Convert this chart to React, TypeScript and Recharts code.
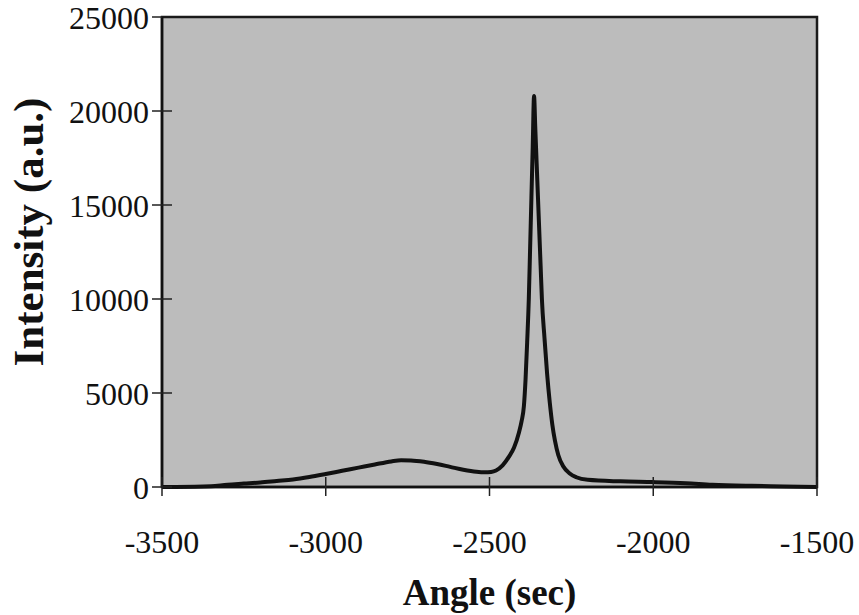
import { Line, LineChart, ReferenceArea, XAxis, YAxis } from "recharts";

// rocking curve: angle (sec) vs intensity (a.u.)
const angles = [
  -3500, -3400, -3350, -3300, -3250, -3200, -3150, -3100, -3050, -3000,
  -2950, -2900, -2850, -2800, -2770, -2740, -2700, -2660, -2620, -2580,
  -2540, -2515, -2495, -2480, -2460, -2441, -2425, -2410, -2402, -2395,
  -2390, -2385, -2380, -2376, -2372, -2368, -2364, -2360, -2356, -2352,
  -2348, -2344, -2340, -2332, -2324, -2316, -2308, -2300, -2290, -2275,
  -2255, -2235, -2200, -2100, -2000, -1900, -1820, -1700, -1600, -1500,
];
const intensity = [
  0, 10, 40, 120, 180, 240, 320, 400, 530, 690,
  860, 1030, 1200, 1360, 1420, 1410, 1340, 1220, 1070, 920,
  810, 780, 800, 880, 1150, 1600, 2100, 2900, 3500, 4300,
  5700, 7700, 10000, 12700, 15400, 18100, 20800, 19000, 17200, 15400,
  13600, 11800, 10000, 7900, 6000, 4500, 3300, 2450, 1700, 1100,
  720, 520, 380, 300, 260, 200, 120, 60, 30, 0,
];

const xTicks = [-3500, -3000, -2500, -2000, -1500];
const yTicks = [0, 5000, 10000, 15000, 20000, 25000];

const data = angles.map((angle, i) => ({ angle, value: intensity[i] }));

const serif = '"Liberation Serif", "Times New Roman", serif';

function XTick(props: any) {
  const { x, y, payload } = props;
  return (
    <g>
      <line x1={x} x2={x} y1={y - 10} y2={y + 9} stroke="#222" strokeWidth={1.5} />
      <text x={x} y={y + 66} textAnchor="middle" fontFamily={serif} fontSize={32} fill="#111">
        {payload.value}
      </text>
    </g>
  );
}

function YTick(props: any) {
  const { x, y, payload } = props;
  return (
    <g>
      <line x1={x - 10} x2={x + (payload.value === 25000 ? 0 : 10)} y1={y} y2={y} stroke="#222" strokeWidth={1.5} />
      <text x={x - 13} y={y} dy="0.36em" textAnchor="end" fontFamily={serif} fontSize={32} fill="#111">
        {payload.value}
      </text>
    </g>
  );
}

export default function App() {
  return (
    <div style={{ position: "absolute", left: 0, top: 0, width: 859, height: 615, overflow: "hidden", background: "#fff" }}>
      <LineChart
        width={859}
        height={615}
        data={data}
        margin={{ top: 17, right: 42, bottom: 0, left: 0 }}
      >
        <ReferenceArea
          x1={-3500}
          x2={-1500}
          y1={0}
          y2={25000}
          fill="#bcbcbc"
          fillOpacity={1}
          stroke="#1a1a1a"
          strokeWidth={2.5}
          ifOverflow="visible"
        />
        <XAxis
          dataKey="angle"
          type="number"
          domain={[-3500, -1500]}
          ticks={xTicks}
          tickSize={0}
          tickMargin={0}
          tickLine={false}
          tick={<XTick />}
          height={128}
          stroke="#111"
          strokeWidth={2.5}
          label={{
            value: "Angle (sec)",
            position: "insideBottom",
            offset: 10,
            style: { fontFamily: serif, fontSize: 37, fontWeight: 700, fill: "#111" },
          }}
        />
        <YAxis
          type="number"
          domain={[0, 25000]}
          ticks={yTicks}
          tickSize={0}
          tickMargin={0}
          tickLine={false}
          tick={<YTick />}
          width={162}
          stroke="#111"
          strokeWidth={2.5}
          label={({ viewBox }: any) => {
            const cx = viewBox.x + 28;
            const cy = viewBox.y + viewBox.height / 2 - 20;
            return (
              <text
                x={cx}
                y={cy}
                transform={`rotate(-90, ${cx}, ${cy})`}
                textAnchor="middle"
                dominantBaseline="central"
                fontFamily={serif}
                fontSize={43}
                fontWeight={700}
                fill="#111"
              >
                Intensity (a.u.)
              </text>
            );
          }}
        />
        <Line
          dataKey="value"
          type="monotone"
          stroke="#111"
          strokeWidth={4}
          dot={false}
          isAnimationActive={false}
        />
      </LineChart>
    </div>
  );
}
